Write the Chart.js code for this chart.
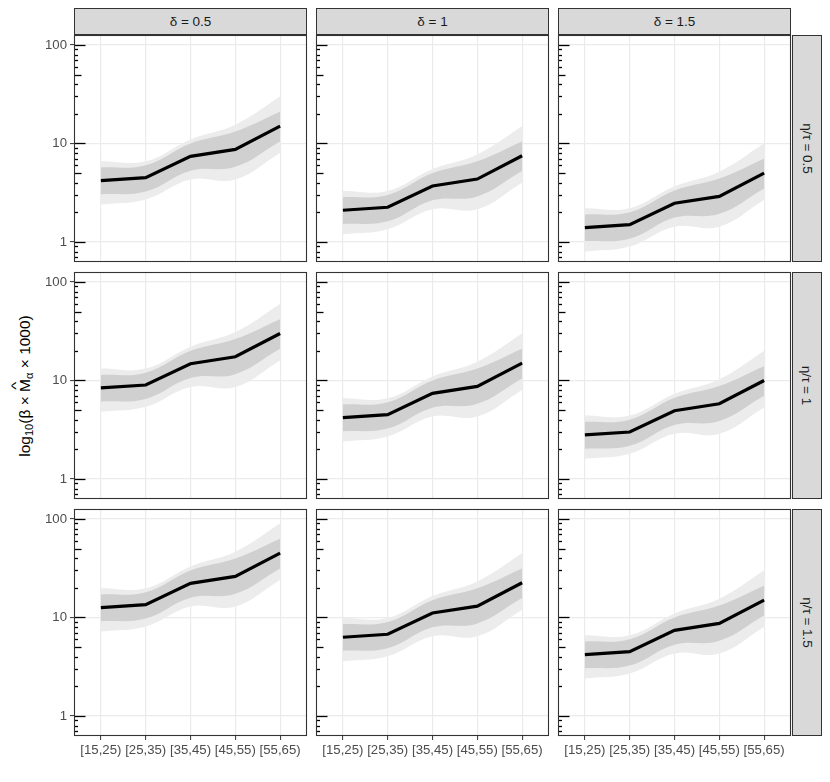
<!DOCTYPE html>
<html>
<head>
<meta charset="utf-8">
<script src="https://cdn.jsdelivr.net/npm/chart.js@4.4.1/dist/chart.umd.min.js"></script>
<style>
  html, body { margin: 0; padding: 0; background: #ffffff; }
  #wrap { position: relative; width: 830px; height: 782px; overflow: hidden; font-family: "Liberation Sans", Arial, sans-serif; }
  canvas.panel { position: absolute; left: 0; top: 0; }
  .strip { position: absolute; box-sizing: border-box; background: #d9d9d9; border: 1px solid #333333; color: #1a1a1a; font-size: 13.5px; display: flex; align-items: center; justify-content: center; white-space: nowrap; }
  .strip span.rot { display: inline-block; transform: rotate(90deg); }
  #ytitle { position: absolute; left: 25px; top: 386px; transform: translate(-50%, -50%) rotate(-90deg); font-size: 15.5px; color: #000; white-space: nowrap; }
  #ytitle sub { font-size: 0.72em; vertical-align: -0.3em; line-height: 0; }
  .hat { position: relative; display: inline-block; }
  .hat .c { position: absolute; left: 50%; top: -0.62em; transform: translateX(-50%) scaleX(1.3); font-size: 0.85em; }
</style>
</head>
<body>
<div id="wrap"></div>
<script>
// ---------------- data ----------------
const categories = ['[15,25)', '[25,35)', '[35,45)', '[45,55)', '[55,65)'];
const deltaLabels = ['δ = 0.5', 'δ = 1', 'δ = 1.5'];
const ratioLabels = ['η/τ = 0.5', 'η/τ = 1', 'η/τ = 1.5'];
const yTickValues = [1, 10, 100];
const logTickValues = [0.7, 0.8, 0.9, 1, 2, 3, 4, 5, 6, 7, 8, 9, 10, 20, 30, 40, 50, 60, 70, 80, 90, 100];

// row 1 : eta/tau = 0.5
const mean_r1c1 = [4.2, 4.5, 7.4, 8.7, 15];
const denseHi_r1c1 = [5.7, 6.0, 10.0, 13.2, 21];
const denseLo_r1c1 = [3.05, 3.25, 5.3, 5.8, 10.5];
const faintHi_r1c1 = [6.6, 6.6, 11, 15.5, 30];
const faintLo_r1c1 = [2.4, 2.7, 4.3, 4.3, 8.0];

const mean_r1c2 = [2.1, 2.25, 3.7, 4.35, 7.5];
const denseHi_r1c2 = [2.85, 3.0, 5.0, 6.6, 10.5];
const denseLo_r1c2 = [1.52, 1.62, 2.65, 2.9, 5.25];
const faintHi_r1c2 = [3.3, 3.3, 5.5, 7.75, 15];
const faintLo_r1c2 = [1.2, 1.35, 2.15, 2.15, 4.0];

const mean_r1c3 = [1.4, 1.5, 2.47, 2.9, 5.0];
const denseHi_r1c3 = [1.9, 2.0, 3.33, 4.4, 7.0];
const denseLo_r1c3 = [1.02, 1.08, 1.77, 1.93, 3.5];
const faintHi_r1c3 = [2.2, 2.2, 3.67, 5.17, 10];
const faintLo_r1c3 = [0.8, 0.9, 1.43, 1.43, 2.67];

// row 2 : eta/tau = 1
const mean_r2c1 = [8.4, 9.0, 14.8, 17.4, 30];
const denseHi_r2c1 = [11.4, 12, 20, 26.4, 42];
const denseLo_r2c1 = [6.1, 6.5, 10.6, 11.6, 21];
const faintHi_r2c1 = [13.2, 13.2, 22, 31, 60];
const faintLo_r2c1 = [4.8, 5.4, 8.6, 8.6, 16];

const mean_r2c2 = [4.2, 4.5, 7.4, 8.7, 15];
const denseHi_r2c2 = [5.7, 6.0, 10.0, 13.2, 21];
const denseLo_r2c2 = [3.05, 3.25, 5.3, 5.8, 10.5];
const faintHi_r2c2 = [6.6, 6.6, 11, 15.5, 30];
const faintLo_r2c2 = [2.4, 2.7, 4.3, 4.3, 8.0];

const mean_r2c3 = [2.8, 3.0, 4.93, 5.8, 10];
const denseHi_r2c3 = [3.8, 4.0, 6.67, 8.8, 14];
const denseLo_r2c3 = [2.03, 2.17, 3.53, 3.87, 7.0];
const faintHi_r2c3 = [4.4, 4.4, 7.33, 10.3, 20];
const faintLo_r2c3 = [1.6, 1.8, 2.87, 2.87, 5.33];

// row 3 : eta/tau = 1.5
const mean_r3c1 = [12.6, 13.5, 22.2, 26.1, 45];
const denseHi_r3c1 = [17.1, 18, 30, 39.6, 63];
const denseLo_r3c1 = [9.15, 9.75, 15.9, 17.4, 31.5];
const faintHi_r3c1 = [19.8, 19.8, 33, 46.5, 90];
const faintLo_r3c1 = [7.2, 8.1, 12.9, 12.9, 24];

const mean_r3c2 = [6.3, 6.75, 11.1, 13.05, 22.5];
const denseHi_r3c2 = [8.55, 9.0, 15, 19.8, 31.5];
const denseLo_r3c2 = [4.58, 4.88, 7.95, 8.7, 15.75];
const faintHi_r3c2 = [9.9, 9.9, 16.5, 23.25, 45];
const faintLo_r3c2 = [3.6, 4.05, 6.45, 6.45, 12];

const mean_r3c3 = [4.2, 4.5, 7.4, 8.7, 15];
const denseHi_r3c3 = [5.7, 6.0, 10.0, 13.2, 21];
const denseLo_r3c3 = [3.05, 3.25, 5.3, 5.8, 10.5];
const faintHi_r3c3 = [6.6, 6.6, 11, 15.5, 30];
const faintLo_r3c3 = [2.4, 2.7, 4.3, 4.3, 8.0];

const panels = [
  [[mean_r1c1, denseHi_r1c1, denseLo_r1c1, faintHi_r1c1, faintLo_r1c1],
   [mean_r1c2, denseHi_r1c2, denseLo_r1c2, faintHi_r1c2, faintLo_r1c2],
   [mean_r1c3, denseHi_r1c3, denseLo_r1c3, faintHi_r1c3, faintLo_r1c3]],
  [[mean_r2c1, denseHi_r2c1, denseLo_r2c1, faintHi_r2c1, faintLo_r2c1],
   [mean_r2c2, denseHi_r2c2, denseLo_r2c2, faintHi_r2c2, faintLo_r2c2],
   [mean_r2c3, denseHi_r2c3, denseLo_r2c3, faintHi_r2c3, faintLo_r2c3]],
  [[mean_r3c1, denseHi_r3c1, denseLo_r3c1, faintHi_r3c1, faintLo_r3c1],
   [mean_r3c2, denseHi_r3c2, denseLo_r3c2, faintHi_r3c2, faintLo_r3c2],
   [mean_r3c3, denseHi_r3c3, denseLo_r3c3, faintHi_r3c3, faintLo_r3c3]]
];

// ---------------- layout ----------------
const W = 830, H = 782;
const colLeft = [74, 316, 558];
const colWidth = 233;
const rowTop = [35, 272, 509];
const rowHeight = 227;
const stripTop = 8;
const stripRightX = 792, stripRightW = 30;
const Y_MIN = 0.626, Y_MAX = 126.3;
const Y_AXIS_W = 60, X_AXIS_H = 30;
const FONT = '"Liberation Sans", Arial, sans-serif';

const wrap = document.getElementById('wrap');

// strips
deltaLabels.forEach((t, c) => {
  const d = document.createElement('div');
  d.className = 'strip';
  d.style.left = colLeft[c] + 'px';
  d.style.top = stripTop + 'px';
  d.style.width = colWidth + 'px';
  d.style.height = (rowTop[0] - stripTop) + 'px';
  d.textContent = t;
  wrap.appendChild(d);
});
ratioLabels.forEach((t, r) => {
  const d = document.createElement('div');
  d.className = 'strip';
  d.style.left = stripRightX + 'px';
  d.style.top = rowTop[r] + 'px';
  d.style.width = stripRightW + 'px';
  d.style.height = rowHeight + 'px';
  const s = document.createElement('span');
  s.className = 'rot';
  s.textContent = t;
  d.appendChild(s);
  wrap.appendChild(d);
});

// y title
const yt = document.createElement('div');
yt.id = 'ytitle';
yt.innerHTML = 'log<sub>10</sub>(β × <span class="hat">M<span class="c">^</span></span><sub>α</sub> × 1000)';
wrap.appendChild(yt);

const panelDecor = {
  id: 'panelDecor',
  afterDatasetsDraw(chart) {
    const ctx = chart.ctx;
    const a = chart.chartArea;
    const ys = chart.scales.y;
    ctx.save();
    ctx.strokeStyle = '#000';
    ctx.lineWidth = 1.3;
    logTickValues.forEach(v => {
      const py = ys.getPixelForValue(v);
      if (py < a.top || py > a.bottom) return;
      const lg = Math.log10(v);
      let len = 4;
      if (Math.abs(lg - Math.round(lg)) < 1e-9) len = 11.5;
      else if (Math.abs(v / Math.pow(10, Math.floor(lg)) - 5) < 1e-9) len = 7.5;
      ctx.beginPath();
      ctx.moveTo(a.left, Math.round(py) + 0.5);
      ctx.lineTo(a.left + len, Math.round(py) + 0.5);
      ctx.stroke();
    });
    ctx.restore();
  },
  afterDraw(chart) {
    const ctx = chart.ctx;
    const a = chart.chartArea;
    ctx.save();
    ctx.strokeStyle = '#333333';
    ctx.lineWidth = 1.1;
    ctx.strokeRect(a.left + 0.5, a.top + 0.5, a.right - a.left - 1, a.bottom - a.top - 1);
    ctx.restore();
  }
};

function toPts(arr) { return arr.map((v, i) => ({ x: i, y: v })); }

for (let r = 0; r < 3; r++) {
  for (let c = 0; c < 3; c++) {
    const [mean, dHi, dLo, fHi, fLo] = panels[r][c];
    const isLeft = c === 0;
    const isBottom = r === 2;
    const cv = document.createElement('canvas');
    cv.className = 'panel';
    cv.width = W; cv.height = H;
    cv.style.width = W + 'px'; cv.style.height = H + 'px';
    wrap.appendChild(cv);
    const L = colLeft[c], T = rowTop[r];
    const yW = isLeft ? Y_AXIS_W : 0;
    const xH = isBottom ? X_AXIS_H : 0;
    new Chart(cv.getContext('2d'), {
      type: 'line',
      data: {
        datasets: [
          { data: toPts(mean), fill: false, borderColor: '#000000', borderWidth: 3.2, pointRadius: 0, tension: 0, borderJoinStyle: 'miter', borderCapStyle: 'butt' },
          { data: toPts(dHi), fill: '+1', backgroundColor: '#d0d0d0', borderWidth: 0, pointRadius: 0, tension: 0.4 },
          { data: toPts(dLo), fill: false, borderWidth: 0, pointRadius: 0, tension: 0.4 },
          { data: toPts(fHi), fill: '+1', backgroundColor: '#ececec', borderWidth: 0, pointRadius: 0, tension: 0.4 },
          { data: toPts(fLo), fill: false, borderWidth: 0, pointRadius: 0, tension: 0.4 }
        ]
      },
      options: {
        responsive: false,
        animation: false,
        devicePixelRatio: 1,
        events: [],
        layout: { padding: { left: L - yW, top: T, right: W - (L + colWidth), bottom: H - (T + rowHeight) - xH } },
        plugins: { legend: { display: false }, tooltip: { enabled: false }, title: { display: false } },
        scales: {
          x: {
            type: 'linear', min: -0.6, max: 4.6, bounds: 'data',
            afterBuildTicks: s => { s.ticks = categories.map((_, i) => ({ value: i })); },
            afterFit: s => { s.height = xH; },
            ticks: {
              display: isBottom, autoSkip: false, maxRotation: 0, minRotation: 0,
              callback: v => categories[v], color: '#4d4d4d', padding: 2,
              font: { family: FONT, size: 13.2 }
            },
            grid: { color: '#ebebeb', lineWidth: 1.2, drawTicks: isBottom, tickLength: 4, tickColor: '#333333', tickWidth: 1 },
            border: { display: false }
          },
          y: {
            type: 'logarithmic', min: Y_MIN, max: Y_MAX, bounds: 'data',
            afterBuildTicks: s => { s.ticks = yTickValues.map(v => ({ value: v })); },
            afterFit: s => { s.width = yW; },
            ticks: {
              display: isLeft, autoSkip: false,
              callback: v => String(v), color: '#4d4d4d', padding: 3,
              font: { family: FONT, size: 13.2 }
            },
            grid: { color: '#ebebeb', lineWidth: 1.2, drawTicks: isLeft, tickLength: 4, tickColor: '#333333', tickWidth: 1 },
            border: { display: false }
          }
        }
      },
      plugins: [panelDecor]
    });
  }
}
</script>
</body>
</html>
